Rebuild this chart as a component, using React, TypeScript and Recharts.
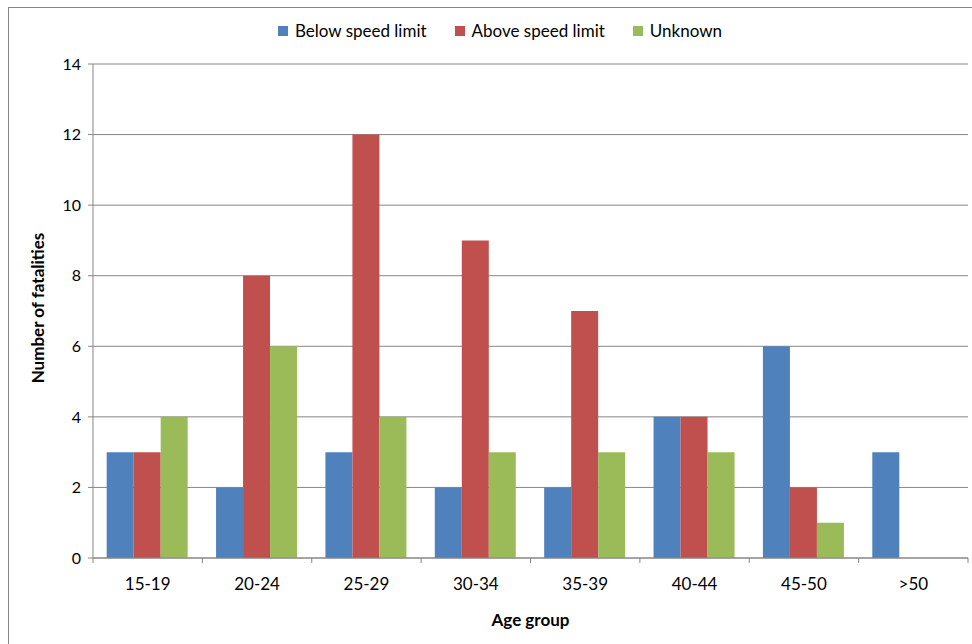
import React from 'react';
import { BarChart, Bar, XAxis, YAxis, CartesianGrid, Legend } from 'recharts';

const ageGroups = ['15-19', '20-24', '25-29', '30-34', '35-39', '40-44', '45-50', '>50'];
const belowLimit = [3, 2, 3, 2, 2, 4, 6, 3];
const aboveLimit = [3, 8, 12, 9, 7, 4, 2, 0];
const unknown = [4, 6, 4, 3, 3, 3, 1, 0];
const yTicks = [0, 2, 4, 6, 8, 10, 12, 14];
const seriesOrder = ['Below speed limit', 'Above speed limit', 'Unknown'];

const data = ageGroups.map((g, i) => ({
    group: g,
    below: belowLimit[i],
    above: aboveLimit[i],
    unknown: unknown[i],
}));

const FONT = 'Lato, "Open Sans", sans-serif';
const AXIS = '#868686';

// Excel puts the category ticks on the band edges, not the centres
function AgeTick(props: any) {
    const { x, y, payload, index, visibleTicksCount } = props;
    const half = payload.offset || 54.7;
    const last = index === visibleTicksCount - 1;
    return (
        <g>
            <line x1={x - half} x2={x - half} y1={y - 8} y2={y - 3} stroke={AXIS} />
            {last && <line x1={x + half} x2={x + half} y1={y - 8} y2={y - 3} stroke={AXIS} />}
            <text x={x} y={y + 24} textAnchor="middle" fill="#000" fontSize={17} fontFamily={FONT}>
                {payload.value}
            </text>
        </g>
    );
}

function LegendBox({ payload }: any) {
    const items = [...(payload || [])].sort((a: any, b: any) => seriesOrder.indexOf(a.value) - seriesOrder.indexOf(b.value));
    return (
        <div style={{ display: 'flex', justifyContent: 'center', gap: 28, fontFamily: FONT, fontSize: 17 }}>
            {items.map((p: any) => (
                <span key={p.value} style={{ display: 'flex', alignItems: 'center' }}>
                    <span style={{ width: 10, height: 10, background: p.color, marginRight: 7, display: 'inline-block' }} />
                    <span style={{ color: '#000' }}>{p.value}</span>
                </span>
            ))}
        </div>
    );
}

export default function App() {
    return (
        <div>
            <div style={{ position: 'absolute', left: 8, top: 7, width: 980, height: 660, border: `1px solid ${AXIS}` }} />
            <div style={{ position: 'absolute', left: 0, top: 0 }}>
                <BarChart
                    width={972}
                    height={644}
                    data={data}
                    margin={{ top: 43, right: 4, bottom: 56, left: 33 }}
                    barCategoryGap="12.5%"
                    barGap={0}
                >
                    <CartesianGrid vertical={false} stroke={AXIS} />
                    <Legend
                        verticalAlign="top"
                        content={<LegendBox />}
                        wrapperStyle={{ position: 'absolute', top: 20, left: 14, width: 972 }}
                    />
                    <XAxis
                        dataKey="group"
                        stroke={AXIS}
                        tickLine={false}
                        tick={<AgeTick />}
                        height={30}
                        label={{ value: 'Age group', position: 'insideBottom', offset: -38, fill: '#000', fontSize: 17, fontWeight: 'bold', fontFamily: FONT }}
                    />
                    <YAxis
                        domain={[0, 14]}
                        ticks={yTicks}
                        stroke={AXIS}
                        width={60}
                        tickSize={5}
                        tickMargin={7}
                        tick={{ fill: '#000', fontSize: 16, fontFamily: FONT }}
                        label={{ value: 'Number of fatalities', angle: -90, position: 'insideLeft', offset: 0, dx: 5, dy: -3, fill: '#000', fontSize: 17, fontWeight: 'bold', fontFamily: FONT, style: { textAnchor: 'middle' } }}
                    />
                    <Bar dataKey="below" name="Below speed limit" fill="#4F81BD" isAnimationActive={false} />
                    <Bar dataKey="above" name="Above speed limit" fill="#C0504D" isAnimationActive={false} />
                    <Bar dataKey="unknown" name="Unknown" fill="#9BBB59" isAnimationActive={false} />
                </BarChart>
            </div>
        </div>
    );
}
